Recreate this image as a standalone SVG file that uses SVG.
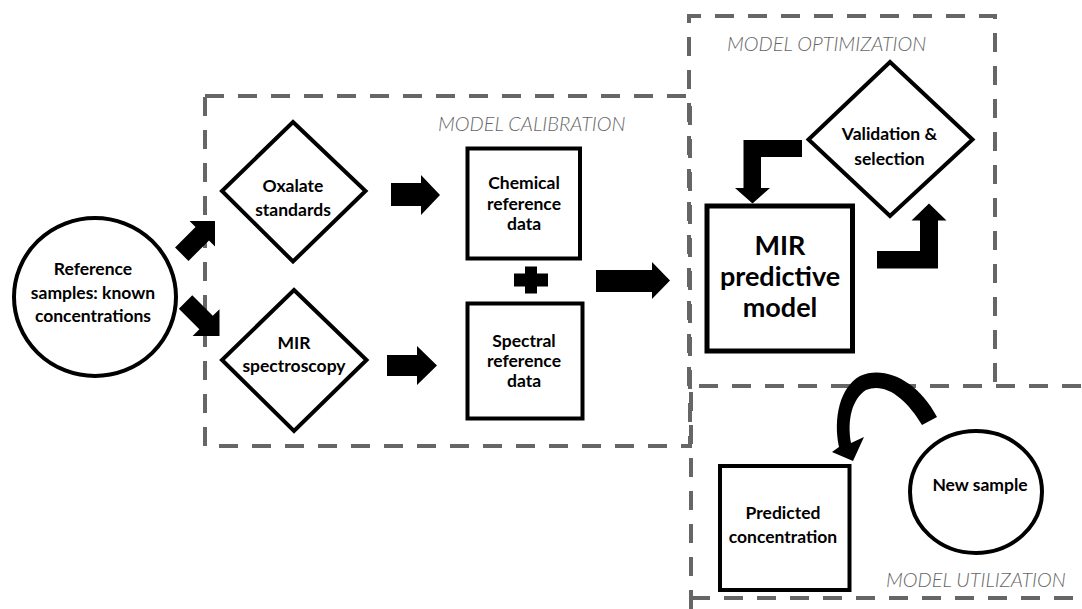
<svg xmlns="http://www.w3.org/2000/svg" width="1082" height="609" viewBox="0 0 1082 609">
  <style>
    .bg { fill: #ffffff; }
    .zone { fill: none; stroke: #666666; stroke-width: 4; stroke-dasharray: 19 14; }
    .zlabel { font-family: Lato, "Open Sans", sans-serif; font-style: italic; font-weight: 300; font-size: 20px; fill: #666666; }
    .shape { fill: #ffffff; stroke: #000000; stroke-width: 4; }
    .txt { font-family: Lato, "Open Sans", sans-serif; font-weight: bold; font-size: 17.5px; fill: #000000; text-anchor: middle; }
    .big { font-size: 27px; }
    .arrow { fill: #000000; stroke: none; }
  </style>
  <rect class="bg" x="0" y="0" width="1082" height="609"/>

  <g id="zones">
    <rect class="zone" x="205" y="96" width="485" height="350"/>
    <path class="zone" d="M689,386 L689,16 L995,16 L995,386"/>
    <path class="zone" d="M691,609 L691,386 L1082,386"/>
    <path class="zone" d="M691,598 L1082,598"/>
    <text class="zlabel" x="438" y="131">MODEL CALIBRATION</text>
    <text class="zlabel" x="727" y="51">MODEL OPTIMIZATION</text>
    <text class="zlabel" x="886" y="587">MODEL UTILIZATION</text>
  </g>

  <g id="connectors">
    <!-- reference -> oxalate (up-right) -->
    <polygon class="arrow" transform="translate(215,221) rotate(-45)" points="-47,-9.5 -18,-9.5 -18,-18 0,0 -18,18 -18,9.5 -47,9.5"/>
    <!-- reference -> MIR spectroscopy (down-right) -->
    <polygon class="arrow" transform="translate(219.5,336) rotate(45)" points="-48,-9.5 -19,-9.5 -19,-19 0,0 -19,19 -19,9.5 -48,9.5"/>
    <!-- oxalate -> chemical -->
    <polygon class="arrow" points="391,183 421,183 421,175 440,195 421,215 421,206 391,206"/>
    <!-- MIR spectroscopy -> spectral -->
    <polygon class="arrow" points="387,355 417,355 417,346 437,365.5 417,385 417,376 387,376"/>
    <!-- data -> MIR model -->
    <polygon class="arrow" points="596,270 652,270 652,262 670,280.5 652,299 652,292 596,292"/>
    <!-- validation -> MIR model (bent) -->
    <polygon class="arrow" points="802,140 743.5,140 743.5,188 735,188 752.5,203.5 770,188 761,188 761,157 802,157"/>
    <!-- MIR model -> validation (bent) -->
    <polygon class="arrow" points="877,251 920,251 920,220.5 911.5,220.5 929,203.5 946.5,220.5 938,220.5 938,268.5 877,268.5"/>
    <!-- new sample -> predicted concentration (curved) -->
    <path class="arrow" d="M937,417 C918,381 885,365 860,376 C840,387 833,418 839,447 L832,452 L853,461 L864,437 L851,443 C847,420 852,399 866,390 C885,382 906,398 922,425 Z"/>
  </g>

  <g id="plus">
    <rect class="arrow" x="514" y="273.5" width="34" height="13"/>
    <rect class="arrow" x="525" y="266.5" width="12" height="27"/>
  </g>

  <g id="reference-samples">
    <ellipse class="shape" cx="95" cy="297" rx="81" ry="79"/>
    <text class="txt" x="93" y="275">Reference</text>
    <text class="txt" x="93" y="298.5">samples: known</text>
    <text class="txt" x="93" y="322">concentrations</text>
  </g>

  <g id="oxalate-standards">
    <polygon class="shape" points="293,122 365.5,191 293,261.5 222,191"/>
    <text class="txt" x="293" y="192">Oxalate</text>
    <text class="txt" x="293" y="216">standards</text>
  </g>

  <g id="mir-spectroscopy">
    <polygon class="shape" points="294,290 366.5,360 294,431 222,360"/>
    <text class="txt" x="294" y="349">MIR</text>
    <text class="txt" x="294" y="371.5">spectroscopy</text>
  </g>

  <g id="chemical-reference">
    <rect class="shape" x="467.5" y="148.5" width="112.5" height="110"/>
    <text class="txt" x="524" y="189">Chemical</text>
    <text class="txt" x="524" y="210">reference</text>
    <text class="txt" x="524" y="230">data</text>
  </g>

  <g id="spectral-reference">
    <rect class="shape" x="467.5" y="303.5" width="115" height="115"/>
    <text class="txt" x="524" y="346.5">Spectral</text>
    <text class="txt" x="524" y="366.5">reference</text>
    <text class="txt" x="524" y="386.5">data</text>
  </g>

  <g id="mir-model">
    <rect class="shape" x="707" y="206" width="145.5" height="145" style="stroke-width:5"/>
    <text class="txt big" x="780" y="255">MIR</text>
    <text class="txt big" x="780" y="286">predictive</text>
    <text class="txt big" x="780" y="316.5">model</text>
  </g>

  <g id="validation-selection">
    <polygon class="shape" points="890,62 972.5,139.5 890,216 808.5,139.5"/>
    <text class="txt" x="889.5" y="140">Validation &amp;</text>
    <text class="txt" x="889.5" y="164.5">selection</text>
  </g>

  <g id="predicted-concentration">
    <rect class="shape" x="720" y="466" width="129.5" height="124"/>
    <text class="txt" x="783" y="519">Predicted</text>
    <text class="txt" x="783" y="542.5">concentration</text>
  </g>

  <g id="new-sample">
    <ellipse class="shape" cx="976" cy="492" rx="66" ry="61"/>
    <text class="txt" x="980" y="490.5">New sample</text>
  </g>
</svg>
